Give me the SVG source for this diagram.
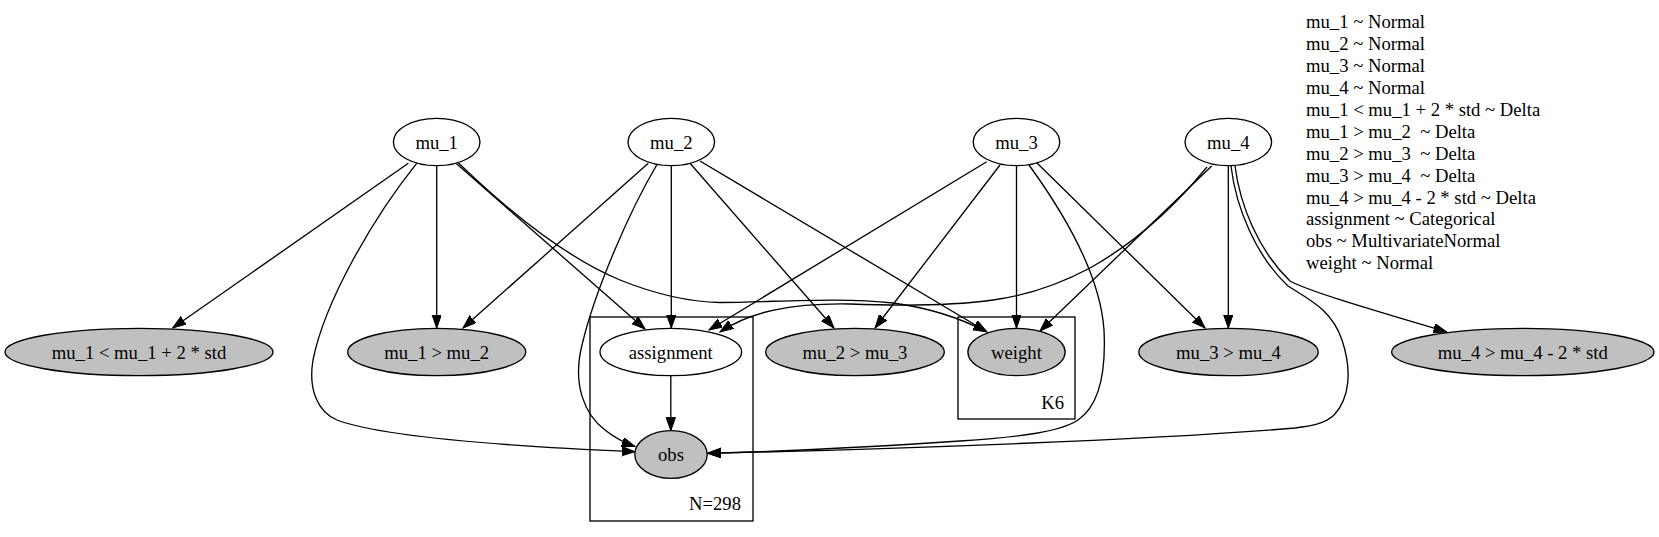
<svg xmlns="http://www.w3.org/2000/svg" width="1659" height="537" viewBox="0 0 1659 537" font-family="'Liberation Serif', 'Times New Roman', Times, serif">
<style>
text{font-family:'Liberation Serif','Times New Roman',Times,serif;font-size:18.67px;fill:#000;white-space:pre}
.n ellipse{stroke:#000;stroke-width:1.33}
.o{fill:#fff}
.g{fill:#c0c0c0}
.c{text-anchor:middle}
.e path{fill:none;stroke:#000;stroke-width:1.33;marker-end:url(#ah)}
.cl{fill:none;stroke:#000;stroke-width:1.33}
</style>
<defs>
<marker id="ah" markerUnits="userSpaceOnUse" markerWidth="15" markerHeight="11" refX="13.3" refY="4.7" orient="auto">
<path d="M0,0 L13.3,4.7 L0,9.4 z" fill="#000" stroke="#000" stroke-width="1"/>
</marker>
</defs>
<rect width="1659" height="537" fill="#fff"/>
<g id="cluster_N298"><rect class="cl" x="590" y="317" width="163" height="204"/><text x="741" y="510" text-anchor="end">N=298</text></g>
<g id="cluster_K6"><rect class="cl" x="958" y="317" width="117" height="102"/><text x="1064" y="409" text-anchor="end">K6</text></g>
<g id="edges" class="e">
<path d="M408.3,163.3 L172.7,328"/>
<path d="M436.7,166 L436.7,328"/>
<path d="M456,163.3 L645,329"/>
<path d="M458.5,163 C500,203 560,255 620,280 C660,296 690,302 720,302.5 C780,302 840,297 893,303 C930,308 960,318 986.7,331.7"/>
<path d="M416.7,163.3 C375,215 325,300 313,360 C308,390 318,412 337,420 C380,436 500,446 635,451.7"/>
<path d="M648.3,163.3 L463,328"/>
<path d="M656.7,165 C630,210 595,290 582,345 C572,385 585,415 605,430 C615,438 625,443 635,446.5"/>
<path d="M671.3,166 L671.3,328"/>
<path d="M690,163.3 L834,328"/>
<path d="M700,161 L986.7,331.7"/>
<path d="M986.7,161.7 L709,330"/>
<path d="M1000,165 L875,328"/>
<path d="M1016.5,166 L1016.5,328"/>
<path d="M1029,165 C1058,205 1100,270 1104,330 C1106,370 1100,405 1078,420 C1060,432 1020,437 960,441 C870,447 760,452 707.5,453.3"/>
<path d="M1036,162 L1205,328"/>
<path d="M1207,167 C1180,200 1140,240 1090,268 C1060,284 1030,295 993,300 C950,306 900,306 850,304 C790,303 750,312 720,332"/>
<path d="M1211.7,166 L1040,331"/>
<path d="M1228.3,166 L1228.3,328"/>
<path d="M1235,166 C1240,205 1258,250 1290,281 C1310,292 1380,312 1446.7,332"/>
<path d="M1231,166 C1236,208 1256,256 1288,286 C1310,300 1332,310 1342,340 C1352,370 1350,398 1334,415 C1325,424 1310,426 1295,428 C1150,440 900,449 707.5,453.3"/>
<path d="M670.8,376 L670.8,430.7"/>
</g>
<g id="mu_1" class="n"><ellipse class="o" cx="436.7" cy="142" rx="43.3" ry="23.7"/><text class="c" x="436.7" y="148.5">mu_1</text></g>
<g id="mu_2" class="n"><ellipse class="o" cx="671.3" cy="142" rx="43.3" ry="23.7"/><text class="c" x="671.3" y="148.5">mu_2</text></g>
<g id="mu_3" class="n"><ellipse class="o" cx="1016.5" cy="142" rx="43.3" ry="23.7"/><text class="c" x="1016.5" y="148.5">mu_3</text></g>
<g id="mu_4" class="n"><ellipse class="o" cx="1228.3" cy="142" rx="43.3" ry="23.7"/><text class="c" x="1228.3" y="148.5">mu_4</text></g>
<g id="mu1_lt" class="n"><ellipse class="g" cx="139" cy="352" rx="134" ry="23.7"/><text class="c" x="139" y="358.5">mu_1 &lt; mu_1 + 2 * std</text></g>
<g id="mu1_gt_mu2" class="n"><ellipse class="g" cx="436.7" cy="352" rx="89" ry="23.7"/><text class="c" x="436.7" y="358.5">mu_1 &gt; mu_2</text></g>
<g id="assignment" class="n"><ellipse class="o" cx="670.8" cy="352" rx="70.8" ry="23.7"/><text class="c" x="670.8" y="358.5">assignment</text></g>
<g id="mu2_gt_mu3" class="n"><ellipse class="g" cx="855" cy="352" rx="89.3" ry="23.7"/><text class="c" x="855" y="358.5">mu_2 &gt; mu_3</text></g>
<g id="weight" class="n"><ellipse class="g" cx="1016.5" cy="352" rx="48.6" ry="23.7"/><text class="c" x="1016.5" y="358.5">weight</text></g>
<g id="mu3_gt_mu4" class="n"><ellipse class="g" cx="1228.5" cy="352" rx="89.7" ry="23.7"/><text class="c" x="1228.5" y="358.5">mu_3 &gt; mu_4</text></g>
<g id="mu4_gt" class="n"><ellipse class="g" cx="1522.8" cy="352" rx="131.2" ry="23.7"/><text class="c" x="1522.8" y="358.5">mu_4 &gt; mu_4 - 2 * std</text></g>
<g id="obs" class="n"><ellipse class="g" cx="671" cy="454.5" rx="36.2" ry="23.8"/><text class="c" x="671" y="461">obs</text></g>
<g id="legend">
<text x="1306" y="28.3">mu_1 ~ Normal</text>
<text x="1306" y="50.2">mu_2 ~ Normal</text>
<text x="1306" y="72.1">mu_3 ~ Normal</text>
<text x="1306" y="94">mu_4 ~ Normal</text>
<text x="1306" y="115.9">mu_1 &lt; mu_1 + 2 * std ~ Delta</text>
<text x="1306" y="137.8">mu_1 &gt; mu_2  ~ Delta</text>
<text x="1306" y="159.7">mu_2 &gt; mu_3  ~ Delta</text>
<text x="1306" y="181.6">mu_3 &gt; mu_4  ~ Delta</text>
<text x="1306" y="203.5">mu_4 &gt; mu_4 - 2 * std ~ Delta</text>
<text x="1306" y="225.4">assignment ~ Categorical</text>
<text x="1306" y="247.3">obs ~ MultivariateNormal</text>
<text x="1306" y="269.2">weight ~ Normal</text>
</g>
</svg>
